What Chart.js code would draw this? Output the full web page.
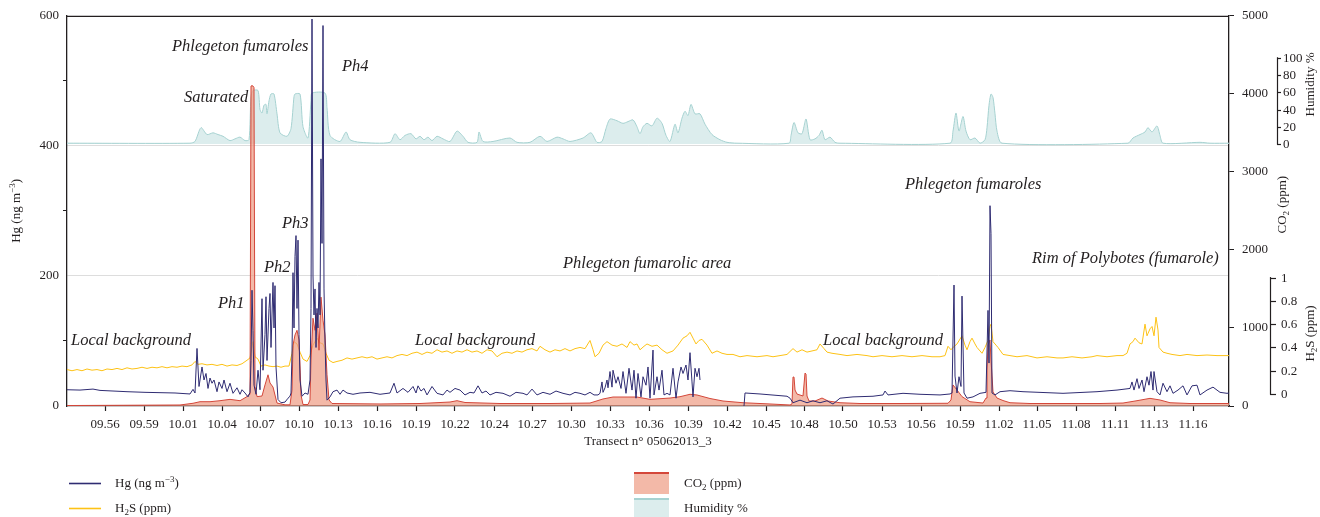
<!DOCTYPE html>
<html>
<head>
<meta charset="utf-8">
<title>Transect n° 05062013_3</title>
<script src="https://cdn.jsdelivr.net/npm/chart.js@4.4.1/dist/chart.umd.min.js"></script>
<style>
  html, body { margin: 0; padding: 0; background: #ffffff; }
  canvas { display: block; }
</style>
</head>
<body>
<canvas id="transect" width="1320" height="517"></canvas>
<script>
// ---- Transect readings: [sample number, value] ----
const sampleSpan = 1162;

const tickLabels = ['09.56','09.59','10.01','10.04','10.07','10.10','10.13','10.16','10.19','10.22',
  '10.24','10.27','10.30','10.33','10.36','10.39','10.42','10.45','10.48','10.50','10.53','10.56',
  '10.59','11.02','11.05','11.08','11.11','11.13','11.16'];
const tickSamples = [38,77,116,155,193,232,271,310,349,388,427,465,504,543,582,621,660,699,737,776,
  815,854,893,932,970,1009,1048,1087,1126];

// Hg (ng m-3)
const hgReadings = [[0,25],[13,24.5],[26,26],[33,24],[60,22],[78,21],[93,20.5],[108,20],[123,18.5],[126,25.6],
  [128,20],[130,88.5],[132,30],[135,60],[137,40],[139,50],[141,27],[143,43],[145,35],[147,40],[150,22],[152,37],
  [155,27],[157,40],[160,22],[163,35],[166,19.5],[170,28],[173,18],[175,25],[178,20],[181,14],[183,21],[184,70],
  [185,178],[186,116],[187,32],[189,18],[191,55],[193,25],[195,165],[196,55],[198,110],[199,168],[200,70],
  [202,150],[203,173],[204,90],[206,190],[207,120],[208,185],[209,60],[211,10],[214,5],[218,6],[221,12],[223,15],
  [224,20],[225,80],[226,205],[227,120],[228,230],[229,262],[230,150],[231,255],[232,110],[233,40],[235,15],
  [238,20],[241,18],[243,40],[244,150],[245,595],[246,200],[247,140],[248,180],[249,90],[250,150],[251,120],
  [252,190],[253,140],[254,380],[255,250],[256,585],[257,180],[258,100],[259,40],[260,9],[263,14],[266,22],
  [270,24.5],[273,18],[276,24.5],[280,20],[286,18],[293,20],[303,21],[313,18],[323,20],[327,35],[330,20],[336,27],
  [341,21],[346,30],[349,20],[351,31],[354,23],[357,27],[360,17],[365,30],[370,19.5],[376,17],[380,24.5],[383,21],
  [388,27],[393,24.5],[398,17],[403,21],[407,20],[411,31],[415,20],[419,23],[423,17],[429,21],[436,19.5],[443,15],
  [449,21],[456,19.5],[460,17],[465,26],[470,17],[476,21],[483,18],[489,23],[496,19.5],[503,17],[508,21],
  [513,19.5],[518,17],[523,21],[527,17],[531,17],[533,19.5],[535,37],[536,21],[538,28],[540,40],[541,28],[543,53],
  [545,29],[546,55],[549,35],[551,45],[554,27],[556,53],[559,19.5],[562,58],[565,24.5],[567,55],[569,12],[571,50],
  [574,14],[576,45],[579,32],[581,60],[583,12],[586,86],[587,17],[590,45],[592,24.5],[595,55],[597,17],[600,19.5],
  [603,17],[606,58],[609,12],[611,37],[614,60],[616,50],[619,63],[621,40],[623,82],[625,37],[626,14],[628,58],
  [630,45],[632,58],[633,40],[634,null],[677,0],[678,20],[693,18.5],[720,15],[723,12],[726,5],[733,9],[740,5],
  [746,8],[753,5],[760,8],[766,3],[773,12],[786,14],[806,15],[816,17],[818,23],[821,17],[836,19.5],[853,18],
  [873,17],[883,18.5],[885,20],[887,186],[888,46],[890,20],[892,45],[894,30],[895,169],[897,20],[900,12],[906,14],
  [913,19.5],[919,21],[921,147],[922,66],[923,308],[924,265],[925,20],[928,17],[933,22],[943,23.5],[956,22],
  [980,20.5],[996,19.5],[1030,22],[1050,24.5],[1063,27],[1065,37],[1067,24.5],[1070,42],[1072,27],[1075,40],
  [1077,22],[1080,45],[1082,32],[1084,53],[1086,24.5],[1087,53],[1090,22],[1093,17],[1096,35],[1100,22],[1103,31],
  [1106,19.5],[1111,24.5],[1116,31],[1120,17],[1125,31],[1130,32],[1133,17],[1140,24.5],[1146,29],[1153,21],
  [1160,19.5],[1162,20]];

// CO2 (ppm)
const co2Readings = [[0,6],[113,13],[126,35],[133,55],[143,55],[153,68],[163,85],[173,68],[180,120],[182,150],
  [183,150],[184,4100],[185,4105],[186,4100],[187,4080],[188,250],[190,120],[195,128],[198,270],[201,400],
  [203,295],[206,243],[208,140],[210,38],[218,15],[223,15],[225,205],[226,780],[228,910],[230,970],[232,845],
  [233,525],[234,140],[236,19],[241,19],[243,77],[244,590],[246,1125],[248,970],[250,1190],[252,715],[254,1395],
  [256,1100],[258,910],[260,400],[262,77],[265,32],[313,26],[353,32],[383,51],[390,68],[398,45],[433,32],[483,32],
  [523,38],[536,90],[546,115],[570,115],[583,85],[603,102],[613,119],[623,150],[630,141],[643,96],[656,64],
  [676,42],[703,26],[723,13],[725,26],[726,371],[727,371],[728,205],[730,153],[736,128],[738,422],[739,410],
  [740,128],[742,64],[748,64],[755,102],[761,64],[773,42],[793,32],[833,32],[881,35],[884,77],[886,270],[890,205],
  [895,120],[903,55],[916,38],[919,102],[920,460],[921,780],[923,845],[924,590],[926,180],[930,102],[936,70],
  [943,42],[963,32],[1033,32],[1056,38],[1070,68],[1083,98],[1093,77],[1103,42],[1123,32],[1162,32]];

// H2S (ppm)
const h2sReadings = [[0,0.21],[5,0.2],[10,0.21],[15,0.2],[20,0.215],[25,0.205],[30,0.21],[35,0.2],[40,0.215],
  [45,0.21],[50,0.22],[55,0.21],[60,0.225],[65,0.215],[70,0.22],[75,0.23],[80,0.22],[85,0.23],[90,0.225],
  [95,0.235],[100,0.225],[105,0.235],[110,0.23],[115,0.24],[120,0.235],[125,0.25],[128,0.28],[131,0.255],
  [135,0.26],[140,0.25],[145,0.255],[150,0.245],[155,0.255],[160,0.24],[165,0.25],[170,0.245],[175,0.26],
  [180,0.29],[183,0.31],[186,0.45],[188,0.32],[191,0.3],[194,0.24],[198,0.25],[202,0.24],[206,0.235],[210,0.24],
  [214,0.23],[218,0.24],[222,0.24],[225,0.35],[227,0.45],[230,0.43],[233,0.36],[236,0.3],[240,0.28],[243,0.33],
  [246,0.42],[250,0.48],[253,0.44],[256,0.43],[259,0.35],[262,0.29],[266,0.27],[270,0.28],[275,0.29],[280,0.31],
  [285,0.3],[290,0.31],[295,0.32],[300,0.31],[305,0.32],[310,0.3],[315,0.31],[320,0.32],[325,0.31],[330,0.33],
  [335,0.34],[340,0.33],[345,0.35],[350,0.36],[355,0.34],[360,0.36],[365,0.35],[370,0.38],[375,0.36],[380,0.37],
  [385,0.35],[390,0.37],[395,0.36],[400,0.38],[405,0.36],[410,0.37],[415,0.35],[420,0.38],[425,0.37],[430,0.32],
  [435,0.35],[440,0.36],[445,0.35],[450,0.37],[455,0.36],[460,0.38],[465,0.39],[470,0.37],[473,0.41],[478,0.38],
  [483,0.36],[488,0.38],[493,0.37],[498,0.39],[503,0.37],[508,0.39],[513,0.4],[518,0.39],[523,0.46],[526,0.38],
  [528,0.32],[532,0.35],[536,0.42],[540,0.45],[545,0.42],[550,0.41],[555,0.43],[560,0.4],[563,0.45],[567,0.42],
  [570,0.43],[573,0.38],[577,0.41],[580,0.43],[585,0.41],[590,0.42],[595,0.38],[600,0.35],[606,0.37],[611,0.42],
  [616,0.48],[620,0.5],[623,0.53],[626,0.48],[629,0.43],[632,0.46],[635,0.47],[640,0.42],[645,0.35],[650,0.37],
  [655,0.35],[660,0.34],[666,0.34],[673,0.32],[680,0.33],[690,0.32],[700,0.33],[706,0.32],[713,0.33],[720,0.34],
  [726,0.39],[730,0.36],[735,0.38],[740,0.36],[745,0.37],[750,0.38],[753,0.43],[757,0.39],[760,0.36],[765,0.35],
  [773,0.34],[780,0.33],[790,0.34],[800,0.33],[806,0.32],[815,0.33],[825,0.32],[835,0.33],[845,0.32],[855,0.33],
  [865,0.32],[873,0.32],[878,0.33],[881,0.41],[884,0.38],[886,0.4],[890,0.43],[895,0.5],[898,0.42],[900,0.38],
  [903,0.45],[905,0.48],[908,0.43],[910,0.4],[913,0.37],[915,0.35],[918,0.4],[921,0.46],[923,0.58],[924,0.6],
  [926,0.45],[929,0.42],[931,0.4],[936,0.34],[943,0.33],[950,0.32],[960,0.33],[970,0.31],[980,0.32],[990,0.31],
  [996,0.31],[1005,0.32],[1015,0.31],[1025,0.32],[1030,0.33],[1040,0.32],[1050,0.33],[1056,0.33],[1060,0.35],
  [1063,0.43],[1066,0.45],[1068,0.48],[1072,0.44],[1075,0.43],[1078,0.6],[1080,0.5],[1081,0.52],[1083,0.56],
  [1085,0.58],[1087,0.5],[1089,0.66],[1091,0.55],[1092,0.4],[1096,0.36],[1100,0.35],[1105,0.34],[1113,0.33],
  [1120,0.34],[1130,0.33],[1140,0.335],[1150,0.33],[1160,0.33],[1162,0.33]];

// Relative humidity (%)
const humidityReadings = [[0,1],[123,1],[128,3],[134,19],[140,11],[146,13],[151,11],[156,9],[163,4],[168,6],
  [173,8],[178,4],[182,5],[184,55],[186,62],[191,62],[193,40],[195,36],[197,45],[199,46],[200,35],[202,50],
  [204,58],[207,58],[210,35],[213,13],[220,9],[224,18],[227,55],[228,58],[233,58],[236,20],[241,7],[244,50],
  [245,59],[258,59],[260,42],[263,10],[273,3],[279,14],[283,5],[293,2],[323,2],[328,12],[333,5],[338,10],[344,12],
  [349,6],[353,9],[357,5],[361,8],[365,4],[370,9],[376,6],[383,3],[390,15],[396,9],[401,2],[410,2],[412,14],
  [416,3],[426,3],[443,7],[450,2],[463,2],[473,9],[480,3],[490,8],[496,6],[503,3],[516,7],[524,13],[530,2],
  [535,3],[539,18],[543,29],[550,27],[556,24],[561,26],[566,28],[570,20],[573,12],[576,20],[580,24],[585,21],
  [590,30],[595,24],[599,10],[603,3],[608,23],[611,13],[615,30],[618,38],[621,33],[624,46],[628,35],[633,35],
  [638,23],[645,11],[653,5],[660,2],[670,1],[722,1],[724,10],[727,25],[731,13],[735,12],[739,29],[743,5],[748,6],
  [752,10],[755,16],[758,5],[763,8],[768,2],[773,1],[883,1],[886,15],[889,36],[892,15],[896,32],[899,15],[903,5],
  [908,7],[913,1],[918,5],[920,19],[922,45],[924,58],[926,54],[928,35],[930,15],[935,1],[1061,1],[1066,7],
  [1073,11],[1078,14],[1081,19],[1085,14],[1090,21],[1093,10],[1096,1],[1133,2],[1143,1],[1162,1]];

// Secondary axis ticks
const humidityTicks = [0, 20, 40, 60, 80, 100];
const h2sTicks = [0, 0.2, 0.4, 0.6, 0.8, 1];

// Field notes written on the plot: [text, sample, Hg level]
const fieldNotes = [
  ['Phlegeton fumaroles', 105, 552],
  ['Saturated', 117, 474],
  ['Ph4', 275, 522],
  ['Ph3', 215, 281],
  ['Ph2', 197, 212],
  ['Ph1', 151, 158],
  ['Local background', 4, 100],
  ['Local background', 348, 100],
  ['Phlegeton fumarolic area', 496, 219],
  ['Local background', 756, 100],
  ['Phlegeton fumaroles', 838, 341],
  ['Rim of Polybotes (fumarole)', 965, 226]
];

// ---- Styling ----
const SERIF = "'Liberation Serif', 'Times New Roman', serif";
const INK = '#231f20';
const GRID = '#dddddd';
const HG_LINE = '#2f2c72';
const CO2_LINE = '#d4473a';
const CO2_FILL = 'rgba(238,158,135,0.72)';
const H2S_LINE = '#fdc216';
const HUM_LINE = '#a6d2d1';
const HUM_FILL = 'rgba(214,234,234,0.85)';

const toPoints = rows => rows.map(([x, y]) => ({ x, y }));

function partFont(p, size) {
  const s = (p.sup || p.sub) ? Math.round(size * 0.72) : size;
  return (p.italic ? 'italic ' : '') + s + 'px ' + SERIF;
}
function richWidth(ctx, parts, size) {
  let w = 0;
  for (const p of parts) { ctx.font = partFont(p, size); w += ctx.measureText(p.t).width; }
  return w;
}
function drawRich(ctx, parts, x, y, size, align) {
  const w = richWidth(ctx, parts, size);
  let cx = align === 'center' ? x - w / 2 : x;
  ctx.textAlign = 'left';
  ctx.textBaseline = 'middle';
  for (const p of parts) {
    ctx.font = partFont(p, size);
    const dy = p.sup ? -size * 0.36 : (p.sub ? size * 0.28 : 0);
    ctx.fillText(p.t, cx, y + dy);
    cx += ctx.measureText(p.t).width;
  }
}
function drawRotated(ctx, parts, x, y, size) {
  ctx.save();
  ctx.translate(x, y);
  ctx.rotate(-Math.PI / 2);
  drawRich(ctx, parts, 0, 0, size, 'center');
  ctx.restore();
}
function sideAxis(ctx, scale, x, ticks, tickLen, labelX, fmt) {
  const yA = scale.getPixelForValue(ticks[0]);
  const yB = scale.getPixelForValue(ticks[ticks.length - 1]);
  ctx.beginPath();
  ctx.moveTo(x + 0.5, yA + 0.5);
  ctx.lineTo(x + 0.5, yB - 0.5);
  ctx.stroke();
  ctx.font = '13px ' + SERIF;
  ctx.textAlign = 'left';
  ctx.textBaseline = 'middle';
  for (const t of ticks) {
    const y = Math.round(scale.getPixelForValue(t)) + 0.5;
    ctx.beginPath();
    ctx.moveTo(x, y);
    ctx.lineTo(x + tickLen, y);
    ctx.stroke();
    ctx.fillText(fmt(t), labelX, y);
  }
}

const decorations = {
  id: 'decorations',
  afterDraw(chart) {
    const { ctx, chartArea: a, scales } = chart;
    ctx.save();
    ctx.strokeStyle = INK;
    ctx.fillStyle = INK;
    ctx.lineWidth = 1.3;

    // closing top edge of the frame
    ctx.beginPath();
    ctx.moveTo(a.left, a.top + 0.5);
    ctx.lineTo(a.right, a.top + 0.5);
    ctx.stroke();

    // humidity and H2S axes on the right
    ctx.lineWidth = 1.2;
    sideAxis(ctx, scales.yHum, 1277, humidityTicks, 4, 1283, t => String(t));
    sideAxis(ctx, scales.yH2S, 1270, h2sTicks, 6, 1281, t => String(t));

    // axis titles
    drawRich(ctx, [{ t: 'Transect n° 05062013_3' }], (a.left + a.right) / 2, a.bottom + 36, 13, 'center');
    drawRotated(ctx, [{ t: 'Hg (ng m' }, { t: '\u22123', sup: true }, { t: ')' }], 17, (a.top + a.bottom) / 2, 13);
    drawRotated(ctx, [{ t: 'CO' }, { t: '2', sub: true }, { t: ' (ppm)' }], 1283, scales.yCO2.getPixelForValue(2580), 13);
    drawRotated(ctx, [{ t: 'Humidity %' }], 1311, scales.yHum.getPixelForValue(69), 13);
    drawRotated(ctx, [{ t: 'H' }, { t: '2', sub: true }, { t: 'S (ppm)' }], 1311, scales.yH2S.getPixelForValue(0.52), 13);

    // field notes
    for (const [text, s, v] of fieldNotes) {
      drawRich(ctx, [{ t: text, italic: true }], scales.x.getPixelForValue(s), scales.y.getPixelForValue(v), 16.5, 'left');
    }

    // legend
    const legendLine = (color, y) => {
      ctx.strokeStyle = color;
      ctx.lineWidth = 1.6;
      ctx.beginPath();
      ctx.moveTo(69, y + 0.5);
      ctx.lineTo(101, y + 0.5);
      ctx.stroke();
    };
    const legendBox = (fill, edge, y, h) => {
      ctx.fillStyle = fill;
      ctx.fillRect(634, y, 35, h);
      ctx.fillStyle = edge;
      ctx.fillRect(634, y, 35, 2);
    };
    legendLine(HG_LINE, 483);
    legendLine(H2S_LINE, 508);
    legendBox(CO2_FILL, CO2_LINE, 472, 22);
    legendBox(HUM_FILL, HUM_LINE, 498, 19);
    ctx.fillStyle = INK;
    drawRich(ctx, [{ t: 'Hg (ng m' }, { t: '\u22123', sup: true }, { t: ')' }], 115, 484, 13, 'left');
    drawRich(ctx, [{ t: 'H' }, { t: '2', sub: true }, { t: 'S (ppm)' }], 115, 509, 13, 'left');
    drawRich(ctx, [{ t: 'CO' }, { t: '2', sub: true }, { t: ' (ppm)' }], 684, 484, 13, 'left');
    drawRich(ctx, [{ t: 'Humidity %' }], 684, 509, 13, 'left');

    ctx.restore();
  }
};

const tickFont = { family: SERIF, size: 13 };

new Chart(document.getElementById('transect'), {
  type: 'line',
  data: {
    datasets: [
      { label: 'Hg (ng m⁻³)', data: toPoints(hgReadings), yAxisID: 'y', borderColor: HG_LINE,
        borderWidth: 1, pointRadius: 0, fill: false, spanGaps: false },
      { label: 'CO₂ (ppm)', data: toPoints(co2Readings), yAxisID: 'yCO2', borderColor: CO2_LINE,
        backgroundColor: CO2_FILL, borderWidth: 1, pointRadius: 0, fill: 'origin' },
      { label: 'H₂S (ppm)', data: toPoints(h2sReadings), yAxisID: 'yH2S', borderColor: H2S_LINE,
        borderWidth: 1, pointRadius: 0, fill: false },
      { label: 'Humidity %', data: toPoints(humidityReadings), yAxisID: 'yHum', borderColor: HUM_LINE,
        backgroundColor: HUM_FILL, borderWidth: 1, pointRadius: 0, fill: 'origin', tension: 0.25 }
    ]
  },
  options: {
    responsive: false,
    animation: false,
    devicePixelRatio: 1,
    events: [],
    layout: { padding: { top: 15, left: 0, right: 0, bottom: 0 } },
    plugins: { legend: { display: false }, tooltip: { enabled: false } },
    scales: {
      x: {
        type: 'linear', min: 0, max: sampleSpan,
        afterBuildTicks: s => { s.ticks = tickSamples.map(v => ({ value: v })); },
        afterFit: s => { s.height = 111; },
        ticks: { autoSkip: false, maxRotation: 0, minRotation: 0, padding: 6, color: INK, font: tickFont,
          callback: (v, i) => tickLabels[i] },
        grid: { drawOnChartArea: false, tickLength: 5, tickColor: INK, tickWidth: 1.2 },
        border: { color: INK, width: 1.3 }
      },
      y: {
        type: 'linear', position: 'left', min: 0, max: 600,
        afterFit: s => { s.width = 67; },
        ticks: { stepSize: 100, padding: 4, color: INK, font: tickFont,
          callback: v => (v % 200 === 0 ? String(v) : '') },
        grid: {
          drawOnChartArea: true, tickLength: 4,
          color: c => (c.tick && (c.tick.value === 200 || c.tick.value === 400)) ? GRID : 'rgba(0,0,0,0)',
          tickColor: c => (c.tick && c.tick.value % 200 !== 0) ? INK : 'rgba(0,0,0,0)'
        },
        border: { color: INK, width: 1.3 }
      },
      yCO2: {
        type: 'linear', position: 'right', min: 0, max: 5000,
        afterFit: s => { s.width = 91; },
        ticks: { stepSize: 1000, padding: 8, color: INK, font: tickFont, callback: v => String(v) },
        grid: { drawOnChartArea: false, tickLength: 5, tickColor: INK },
        border: { color: INK, width: 1.3 }
      },
      yH2S: { type: 'linear', display: false, min: -0.1028, max: 3.248 },
      yHum: { type: 'linear', display: false, min: -303.5, max: 148.6 }
    }
  },
  plugins: [decorations]
});
</script>
</body>
</html>
